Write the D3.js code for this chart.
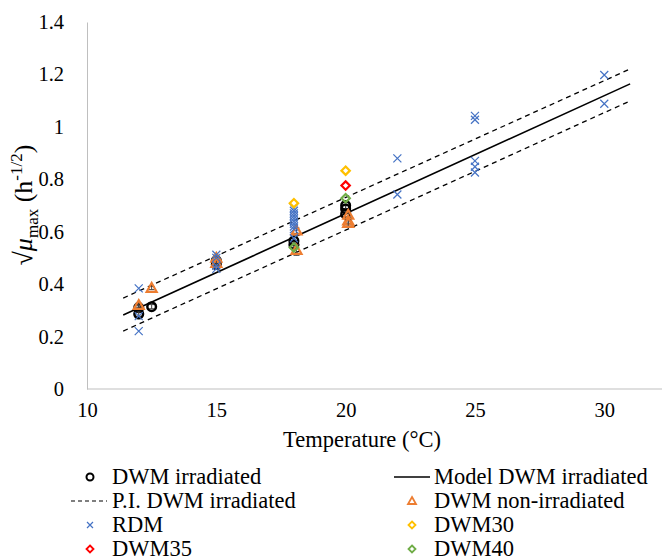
<!DOCTYPE html>
<html>
<head>
<meta charset="utf-8">
<script src="https://cdn.jsdelivr.net/npm/d3@7/dist/d3.min.js"></script>
<style>
  html, body { margin: 0; padding: 0; background: #fff; }
  svg text { font-family: "Liberation Serif", "Times New Roman", serif; fill: #000; }
</style>
</head>
<body>
<svg id="chart" width="662" height="557"></svg>
<script>
// Growth rate (square root of mu_max) versus temperature
const xTicks = [10, 15, 20, 25, 30];
const yTicks = [0, 0.2, 0.4, 0.6, 0.8, 1, 1.2, 1.4];

// DWM irradiated
const dwmIrrT   = [12, 12, 12.5, 15, 15, 18, 18, 20, 20, 20];
const dwmIrrV   = [0.31, 0.286, 0.314, 0.49, 0.475, 0.565, 0.55, 0.70, 0.687, 0.667];
const dwmIrrErr = [0.008, 0.008, 0.008, 0.01, 0.01, 0.012, 0.01, 0.012, 0.012, 0.01];

// Model line and prediction interval (end points)
const modelT = [11.4, 31];
const modelV = [0.282, 1.164];
const piUpperV = [0.347, 1.221];
const piLowerV = [0.221, 1.099];

// DWM non-irradiated
const dwmNonT   = [12, 12.5, 15, 15, 18.1, 18.1, 20.1, 20.1, 20.1];
const dwmNonV   = [0.32, 0.385, 0.50, 0.48, 0.604, 0.53, 0.664, 0.642, 0.633];
const dwmNonErr = [0.008, 0.006, 0.01, 0.01, 0.01, 0.02, 0.01, 0.01, 0.012];

// RDM
const rdmT = [12, 12, 12, 15, 15, 15, 15,
              18, 18, 18, 18, 18, 18, 18, 18, 18, 18,
              22, 22, 25, 25, 25, 25, 25, 30, 30];
const rdmV = [0.384, 0.278, 0.221, 0.512, 0.50, 0.47, 0.458,
              0.69, 0.68, 0.67, 0.66, 0.65, 0.64, 0.63, 0.62, 0.61, 0.575,
              0.88, 0.742, 1.042, 1.027, 0.87, 0.848, 0.826, 1.198, 1.088];

// DWM30 / DWM35 / DWM40
const dwm30T = [18, 20];
const dwm30V = [0.709, 0.833];
const dwm35T = [20];
const dwm35V = [0.776];
const dwm40T = [18, 20];
const dwm40V = [0.54, 0.728];

const colors = {
  irr: "#000000", non: "#ED7D31", rdm: "#4472C4",
  d30: "#FFC000", d35: "#FF0000", d40: "#70AD47"
};

const serif = "Liberation Serif";
const svg = d3.select("#chart");
const tickSize = 20.5;
const textSize = 22.5;

const x = d3.scaleLinear().domain([10, 32]).range([87, 656]);
const y = d3.scaleLinear().domain([0, 1.4]).range([389, 22]);

// axes (light grey lines, no tick marks)
const xAxis = svg.append("g").attr("transform", `translate(0,${y(0)})`)
  .call(d3.axisBottom(x).tickValues(xTicks).tickSize(0).tickPadding(13).tickFormat(d3.format("d")));
xAxis.attr("font-family", serif);
xAxis.select(".domain").attr("d", `M${x(10)},0H662`).attr("stroke", "#BFBFBF").attr("stroke-width", 1);
xAxis.selectAll("text").attr("font-size", tickSize).attr("font-family", serif);

const yAxis = svg.append("g").attr("transform", `translate(${x(10)},0)`)
  .call(d3.axisLeft(y).tickValues(yTicks).tickSize(0).tickPadding(23).tickFormat(d => d3.format("")(d)));
yAxis.attr("font-family", serif);
yAxis.select(".domain").attr("stroke", "#BFBFBF").attr("stroke-width", 1);
yAxis.selectAll("text").attr("font-size", tickSize).attr("font-family", serif);

// axis titles
svg.append("text").attr("x", 362).attr("y", 447).attr("font-family", serif)
  .attr("text-anchor", "middle").attr("font-size", textSize).text("Temperature (°C)");

const yt = svg.append("text")
  .attr("transform", `translate(32,${205}) rotate(-90)`).attr("font-family", serif)
  .attr("text-anchor", "middle").attr("font-size", 26);
yt.append("tspan").text("√");
yt.append("tspan").attr("font-style", "italic").text("μ");
yt.append("tspan").attr("font-size", 17).attr("dy", 6).text("max");
yt.append("tspan").attr("dy", -6).text(" (h");
yt.append("tspan").attr("font-size", 17).attr("dy", -10).text("-1/2");
yt.append("tspan").attr("dy", 10).text(")");

const plot = svg.append("g");

// marker helpers
function circle(g, cx, cy, color) {
  g.append("circle").attr("cx", cx).attr("cy", cy).attr("r", 4.3)
    .attr("fill", "none").attr("stroke", color).attr("stroke-width", 2.5);
}
function triangle(g, cx, cy, color) {
  const s = 5;
  g.append("path").attr("d", `M${cx},${cy - s}L${cx + s},${cy + s * 0.75}L${cx - s},${cy + s * 0.75}Z`)
    .attr("fill", "none").attr("stroke", color).attr("stroke-width", 2.2).attr("stroke-linejoin", "miter");
}
function cross(g, cx, cy, color) {
  const s = 4;
  g.append("path").attr("d", `M${cx - s},${cy - s}L${cx + s},${cy + s}M${cx - s},${cy + s}L${cx + s},${cy - s}`)
    .attr("stroke", color).attr("stroke-width", 1.2);
}
function diamond(g, cx, cy, color) {
  const s = 4.2;
  g.append("path").attr("d", `M${cx},${cy - s}L${cx + s},${cy}L${cx},${cy + s}L${cx - s},${cy}Z`)
    .attr("fill", "none").attr("stroke", color).attr("stroke-width", 2.2);
}
function errBar(g, cx, v, e) {
  const cap = 3;
  g.append("path")
    .attr("d", `M${cx},${y(v - e)}V${y(v + e)}M${cx - cap},${y(v - e)}H${cx + cap}M${cx - cap},${y(v + e)}H${cx + cap}`)
    .attr("stroke", "#404040").attr("stroke-width", 1).attr("fill", "none");
}

// DWM irradiated
dwmIrrT.forEach((t, i) => { errBar(plot, x(t), dwmIrrV[i], dwmIrrErr[i]); circle(plot, x(t), y(dwmIrrV[i]), colors.irr); });

// model and prediction interval
const line = d3.line().x(d => x(d[0])).y(d => y(d[1]));
plot.append("path").attr("d", line(modelT.map((t, i) => [t, modelV[i]])))
  .attr("stroke", "#000").attr("stroke-width", 1.6).attr("fill", "none");
[piUpperV, piLowerV].forEach(vals => {
  plot.append("path").attr("d", line(modelT.map((t, i) => [t, vals[i]])))
    .attr("stroke", "#000").attr("stroke-width", 1.3).attr("stroke-dasharray", "5,4").attr("fill", "none");
});

// DWM non-irradiated
dwmNonT.forEach((t, i) => { errBar(plot, x(t), dwmNonV[i], dwmNonErr[i]); triangle(plot, x(t), y(dwmNonV[i]), colors.non); });
// RDM
rdmT.forEach((t, i) => cross(plot, x(t), y(rdmV[i]), colors.rdm));
// DWM30 / 35 / 40
dwm30T.forEach((t, i) => diamond(plot, x(t), y(dwm30V[i]), colors.d30));
dwm35T.forEach((t, i) => diamond(plot, x(t), y(dwm35V[i]), colors.d35));
dwm40T.forEach((t, i) => diamond(plot, x(t), y(dwm40V[i]), colors.d40));

// legend
const legend = svg.append("g");
const rowY = [477, 501, 525, 549];
const col1 = { m: 90, t: 112 }, col2 = { m: 412, t: 434 };
const items = [
  { label: "DWM irradiated", col: col1, row: 0, type: "circle", color: colors.irr },
  { label: "Model DWM irradiated", col: col2, row: 0, type: "line" },
  { label: "P.I. DWM irradiated", col: col1, row: 1, type: "dash" },
  { label: "DWM non-irradiated", col: col2, row: 1, type: "triangle", color: colors.non },
  { label: "RDM", col: col1, row: 2, type: "cross", color: colors.rdm },
  { label: "DWM30", col: col2, row: 2, type: "diamond", color: colors.d30 },
  { label: "DWM35", col: col1, row: 3, type: "diamond", color: colors.d35 },
  { label: "DWM40", col: col2, row: 3, type: "diamond", color: colors.d40 }
];
items.forEach(it => {
  const cy = rowY[it.row], cx = it.col.m;
  if (it.type === "circle") legend.append("circle").attr("cx", cx).attr("cy", cy).attr("r", 3.5)
    .attr("fill", "none").attr("stroke", it.color).attr("stroke-width", 2);
  if (it.type === "triangle") legend.append("path").attr("d", `M${cx},${cy - 4}L${cx + 4},${cy + 3}L${cx - 4},${cy + 3}Z`)
    .attr("fill", "none").attr("stroke", it.color).attr("stroke-width", 1.8);
  if (it.type === "cross") legend.append("path").attr("d", `M${cx - 3},${cy - 3}L${cx + 3},${cy + 3}M${cx - 3},${cy + 3}L${cx + 3},${cy - 3}`)
    .attr("stroke", it.color).attr("stroke-width", 1.2);
  if (it.type === "diamond") legend.append("path").attr("d", `M${cx},${cy - 3.5}L${cx + 3.5},${cy}L${cx},${cy + 3.5}L${cx - 3.5},${cy}Z`)
    .attr("fill", "none").attr("stroke", it.color).attr("stroke-width", 1.8);
  if (it.type === "line") legend.append("line").attr("x1", cx - 18).attr("x2", cx + 18).attr("y1", cy).attr("y2", cy)
    .attr("stroke", "#000").attr("stroke-width", 1.6);
  if (it.type === "dash") legend.append("line").attr("x1", cx - 19).attr("x2", cx + 17).attr("y1", cy).attr("y2", cy)
    .attr("stroke", "#000").attr("stroke-width", 1.2).attr("stroke-dasharray", "4,3");
  legend.append("text").attr("x", it.col.t).attr("y", cy).attr("dy", "0.33em").attr("font-family", serif)
    .attr("font-size", textSize).text(it.label);
});
</script>
</body>
</html>
